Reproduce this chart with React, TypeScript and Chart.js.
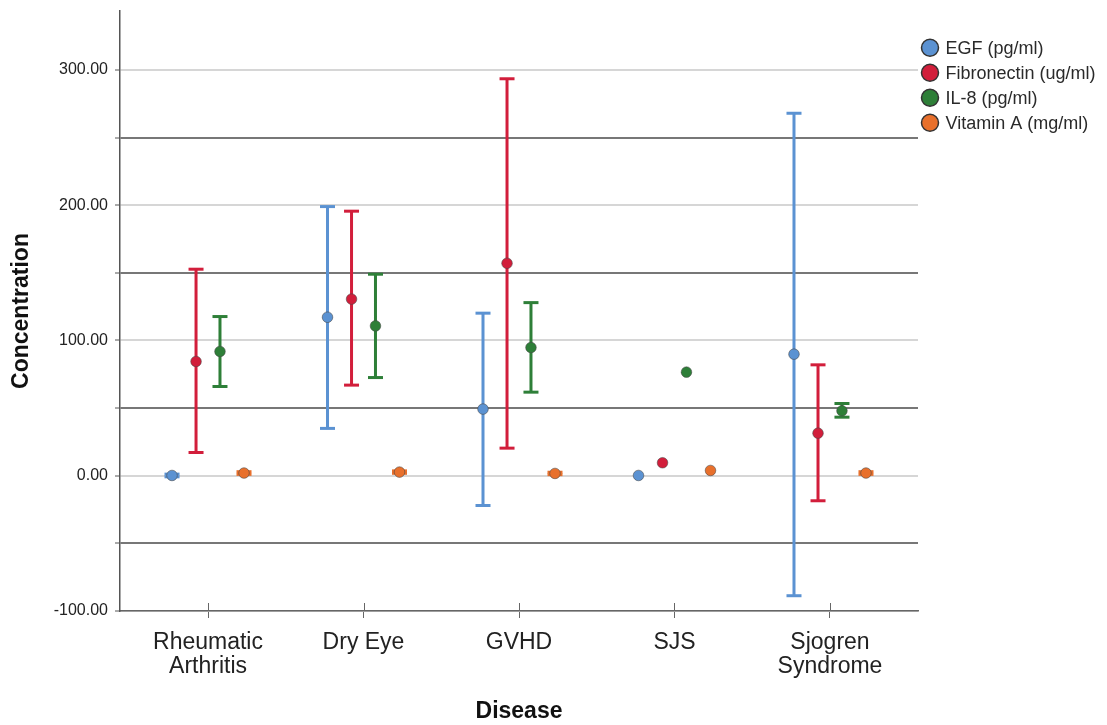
import React, { useEffect, useRef } from "react";
import { Chart, registerables } from "chart.js";

Chart.register(...registerables);

const categories: (string | string[])[] = [["Rheumatic", "Arthritis"], "Dry Eye", "GVHD", "SJS", ["Sjogren", "Syndrome"]];
const seriesNames = ["EGF (pg/ml)", "Fibronectin (ug/ml)", "IL-8 (pg/ml)", "Vitamin A (mg/ml)"];
const seriesColors = ["#5B92D2", "#D21E3B", "#2E7F38", "#E8702C"];

const egfMean = [0.2, 117.2, 49.3, 0.2, 89.9];
const egfLow = [-0.8, 35, -22, null, -88.7];
const egfHigh = [1.2, 199, 120.2, null, 268];

const fibMean = [84.5, 130.6, 157.1, 9.6, 31.5];
const fibLow = [17.2, 67, 20.4, null, -18.5];
const fibHigh = [152.7, 195.6, 293.5, null, 82];

const il8Mean = [91.9, 110.8, 94.8, 76.6, 48];
const il8Low = [66, 72.6, 61.8, null, 43.3];
const il8High = [117.7, 149, 128, null, 53.4];

const vitMean = [2.0, 2.7, 1.7, 3.9, 2.0];
const vitLow = [1.0, 1.8, 0.8, null, 1.0];
const vitHigh = [3.0, 3.6, 2.6, null, 3.0];

const yTickValues = [-100, -50, 0, 50, 100, 150, 200, 250, 300];
const yMin = -100;
const yMax = 343.6;

const means = [egfMean, fibMean, il8Mean, vitMean];
const lows = [egfLow, fibLow, il8Low, vitLow];
const highs = [egfHigh, fibHigh, il8High, vitHigh];
const offsets = [-0.2315, -0.077, 0.077, 0.2315];

const FONT = "'Liberation Sans', Arial, sans-serif";

function buildDatasets() {
  const ds: any[] = [];
  means.forEach((m, s) => {
    const color = seriesColors[s];
    const lineData: any[] = [];
    const capData: any[] = [];
    categories.forEach((_, i) => {
      const lo = lows[s][i];
      const hi = highs[s][i];
      const x = i + offsets[s];
      if (lo !== null && hi !== null) {
        lineData.push({ x, y: lo }, { x, y: hi }, { x, y: null });
        capData.push({ x, y: lo }, { x, y: hi });
      }
    });
    ds.push({
      type: "line",
      label: seriesNames[s] + " CI",
      data: lineData,
      borderColor: color,
      borderWidth: 3,
      pointRadius: 0,
      spanGaps: false,
      order: 3,
    });
    ds.push({
      type: "scatter",
      label: seriesNames[s] + " caps",
      data: capData,
      pointStyle: "line",
      pointRadius: 7.5,
      pointBorderWidth: 3,
      borderColor: color,
      backgroundColor: color,
      order: 2,
    });
    ds.push({
      type: "scatter",
      label: seriesNames[s],
      data: m.map((v, i) => ({ x: i + offsets[s], y: v })),
      pointStyle: "circle",
      pointRadius: 5.3,
      pointBorderWidth: 1,
      borderColor: "rgba(70,70,70,0.55)",
      backgroundColor: color,
      order: 1,
    });
  });
  return ds;
}

const legendPlugin = {
  id: "customLegend",
  afterDraw(chart: any) {
    const ctx = chart.ctx;
    ctx.save();
    seriesNames.forEach((name, i) => {
      const y = 47.7 + i * 25;
      ctx.beginPath();
      ctx.arc(930, y, 8.5, 0, Math.PI * 2);
      ctx.fillStyle = seriesColors[i];
      ctx.fill();
      ctx.lineWidth = 1.5;
      ctx.strokeStyle = "#333";
      ctx.stroke();
      ctx.fillStyle = "#2a2a2a";
      ctx.font = `18px ${FONT}`;
      ctx.textBaseline = "middle";
      ctx.textAlign = "left";
      ctx.fillText(name, 945.5, y + 1);
    });
    ctx.restore();
  },
};

const innerTickPlugin = {
  id: "innerTicks",
  afterDraw(chart: any) {
    const xs = chart.scales.x;
    const ctx = chart.ctx;
    const bottom = chart.chartArea.bottom;
    ctx.save();
    ctx.strokeStyle = "#666";
    ctx.lineWidth = 1;
    xs.ticks.forEach((t: any) => {
      const px = Math.round(xs.getPixelForValue(t.value)) + 0.5;
      ctx.beginPath();
      ctx.moveTo(px, bottom - 8);
      ctx.lineTo(px, bottom);
      ctx.stroke();
    });
    ctx.restore();
  },
};

export default function App() {
  const ref = useRef<HTMLCanvasElement>(null);
  useEffect(() => {
    if (!ref.current) return;
    const chart = new Chart(ref.current, {
      type: "scatter",
      data: { datasets: buildDatasets() },
      options: {
        responsive: false,
        animation: false,
        layout: { padding: { left: 0, right: 1107 - 918, top: 11, bottom: 0 } },
        plugins: {
          legend: { display: false },
          tooltip: { enabled: false },
        },
        scales: {
          x: {
            type: "linear",
            min: -0.566,
            max: 4.566,
            afterBuildTicks: (scale: any) => {
              scale.ticks = categories.map((_, i) => ({ value: i }));
            },
            afterFit: (scale: any) => {
              scale.height = 725 - 611;
              scale.paddingLeft = 0;
              scale.paddingRight = 0;
            },
            ticks: {
              callback: (v: any) => categories[Math.round(Number(v))] as any,
              font: { family: FONT, size: 23, lineHeight: 24 / 23 },
              color: "#222",
              padding: 13,
              maxRotation: 0,
              autoSkip: false,
            },
            grid: {
              drawOnChartArea: false,
              drawTicks: true,
              tickLength: 7,
              tickColor: "#666",
              tickWidth: 1,
            },
            border: { color: "#666", width: 1.5 },
            title: {
              display: true,
              text: "Disease",
              font: { family: FONT, size: 23, weight: "bold" },
              color: "#111",
              padding: { top: 0, bottom: 0 },
            },
          },
          y: {
            type: "linear",
            min: yMin,
            max: yMax,
            afterBuildTicks: (scale: any) => {
              scale.ticks = yTickValues.map((v) => ({ value: v }));
            },
            afterFit: (scale: any) => {
              scale.width = 120;
              scale.paddingTop = 0;
              scale.paddingBottom = 0;
            },
            ticks: {
              callback: (v: any) => (Number(v) % 100 === 0 ? Number(v).toFixed(2) : ""),
              font: { family: FONT, size: 16 },
              color: "#222",
              padding: 7,
            },
            grid: {
              color: (ctx: any) =>
                ctx.tick && Math.abs(ctx.tick.value % 100) === 0 ? "#d6d6d6" : "#777",
              lineWidth: 2,
              tickLength: 5,
              tickColor: "#555",
              tickWidth: 1,
            },
            border: { color: "#555", width: 1.5 },
            title: {
              display: true,
              text: "Concentration",
              font: { family: FONT, size: 23, weight: "bold" },
              color: "#111",
              padding: { top: 8, bottom: 0 },
            },
          },
        },
      },
      plugins: [legendPlugin, innerTickPlugin],
    } as any);
    return () => chart.destroy();
  }, []);
  return (
    <div style={{ position: "fixed", left: 0, top: 0, width: 1107, height: 725, background: "#fff" }}>
      <canvas ref={ref} width={1107} height={725} style={{ display: "block" }} />
    </div>
  );
}
